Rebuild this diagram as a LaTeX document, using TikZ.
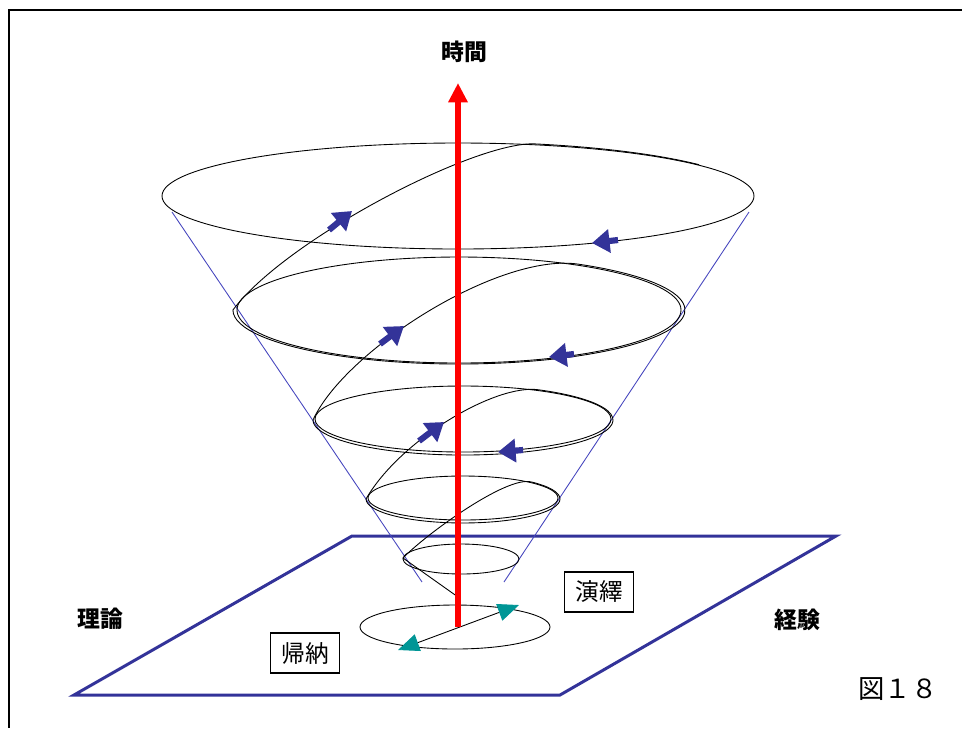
\documentclass[tikz,border=0pt]{standalone}
\usepackage{fontspec}
\setmainfont{Noto Sans CJK JP}
\usepackage{xcolor}
\usepackage{tikz}
\usetikzlibrary{arrows.meta}
\definecolor{navy}{RGB}{51, 51, 153}
\definecolor{conecol}{RGB}{70, 70, 190}
\definecolor{tealhead}{RGB}{0, 150, 150}

\begin{document}
\begin{tikzpicture}[x=0.02cm, y=-0.02cm,
  spiralarr/.style={navy, line width=3.5pt, -{Triangle[length=10pt, width=13pt]}},
  labelbox/.style={draw, fill=white, line width=0.6pt, minimum width=1.38cm, minimum height=0.8cm, inner sep=0pt, font=\fontsize{13.5}{15}\selectfont},
  boldlabel/.style={font=\fontsize{13}{15}\selectfont\bfseries}]

\useasboundingbox (0,0) rectangle (962,728);

\draw[line width=1.6pt] (8,10) -- (962,10);
\draw[line width=1.6pt] (9,10) -- (9,728);

\coordinate (P1) at (352,536);
\coordinate (P2) at (836,536);
\coordinate (P3) at (560,695);
\coordinate (P4) at (74,695);

\draw[navy, line width=1.7pt] (P1) -- (P2) -- (P3) -- (P4) -- cycle;

\draw[conecol, line width=0.5pt] (172,212) -- (422,582);
\draw[conecol, line width=0.5pt] (749,212) -- (504,582);

\draw[line width=0.5pt] (458,196) ellipse [x radius=296, y radius=53];
\draw[line width=0.5pt] (459,310) ellipse [x radius=222, y radius=53];
\draw[line width=0.5pt] (463,419) ellipse [x radius=148, y radius=33];
\draw[line width=0.5pt] (463,498) ellipse [x radius=95, y radius=22];
\draw[line width=0.5pt] (461,559) ellipse [x radius=58, y radius=15];
\draw[line width=0.5pt] (455,627) ellipse [x radius=95, y radius=22];

\draw[line width=0.5pt] (458,597) -- (403,558)
  .. controls (425,535) and (507,475) .. (531.6,482)
  arc[start angle=-45, end angle=180, x radius=97, y radius=24]
  .. controls (400,440) and (495,384) .. (538,389.7)
  arc[start angle=-60, end angle=180, x radius=150, y radius=35]
  .. controls (345,350) and (500,252) .. (578.7,264.2)
  arc[start angle=-58, end angle=180, x radius=226, y radius=54]
  .. controls (285,240) and (475,141) .. (535.1,143.9)
  arc[start angle=-75, end angle=-36, x radius=298, y radius=55];

\draw[spiralarr] (329,230) -- (352,211);
\draw[spiralarr] (380,344) -- (404,326);
\draw[spiralarr] (419,441) -- (444,422);
\draw[spiralarr] (618,240) -- (592,243);
\draw[spiralarr] (574,354) -- (549,357);
\draw[spiralarr] (523,450) -- (498,452);

\draw[line width=0.5pt, {Triangle[length=12pt, width=10pt, color=tealhead]}-{Triangle[length=12pt, width=10pt, color=tealhead]}] (398,650) -- (519,605);

\draw[red, line width=3.4pt, -{Triangle[length=11pt, width=10.5pt]}] (458,627) -- (458,83);

\node[boldlabel] (jikan) at (464,52) {時間};
\node[boldlabel] (riron) at (100,619) {理論};
\node[boldlabel] (keiken) at (797,620) {経験};
\node[labelbox] (eneki) at (599,592) {演繹};
\node[labelbox] (kino) at (305,653) {帰納};
\node[font=\fontsize{15}{17}\selectfont] (zu) at (898,689) {図１８};

\end{tikzpicture}
\end{document}
